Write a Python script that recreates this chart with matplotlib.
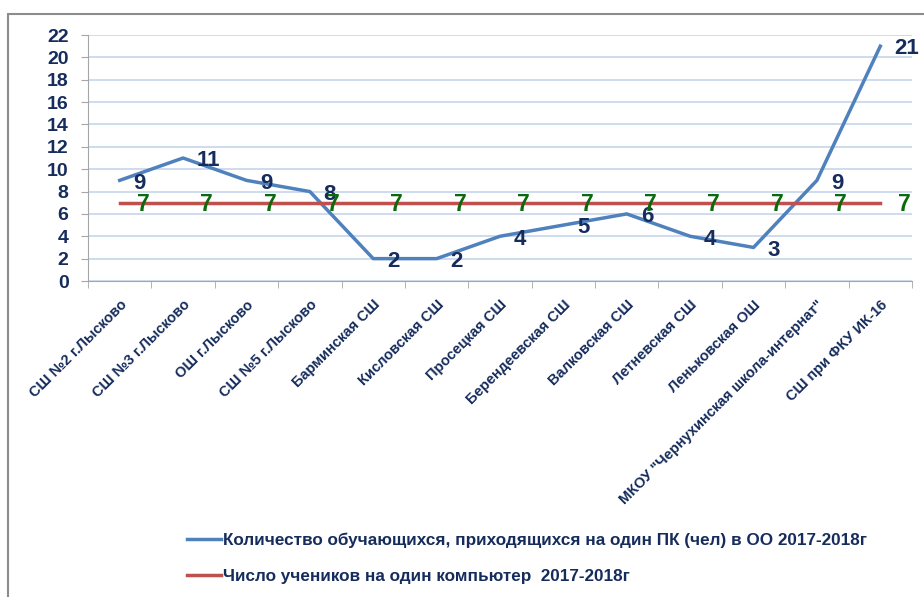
import matplotlib
matplotlib.use("Agg")
from matplotlib import pyplot as plt
from matplotlib.patches import Rectangle

NAVY = "#152C5C"
GREEN = "#0B6A0B"
BLUE_LINE = "#4F81BD"
RED_LINE = "#C0504D"
GRID = "#C5D6EA"
FONT = ["Liberation Sans", "DejaVu Sans"]

schools = [
    "СШ №2 г.Лысково",
    "СШ №3 г.Лысково",
    "ОШ г.Лысково",
    "СШ №5 г.Лысково",
    "Барминская СШ",
    "Кисловская СШ",
    "Просецкая СШ",
    "Берендеевская СШ",
    "Валковская СШ",
    "Летневская СШ",
    "Леньковская ОШ",
    "МКОУ \"Чернухинская школа-интернат\"",
    "СШ при ФКУ ИК-16",
]
pupils_per_pc = [9, 11, 9, 8, 2, 2, 4, 5, 6, 4, 3, 9, 21]
pupils_per_computer = [7, 7, 7, 7, 7, 7, 7, 7, 7, 7, 7, 7, 7]

label_pc = "Количество обучающихся, приходящихся на один ПК (чел) в ОО 2017-2018г"
label_comp = "Число учеников на один компьютер  2017-2018г"

plt.rcParams["font.family"] = FONT
plt.rcParams["font.weight"] = "bold"

fig = plt.figure(figsize=(9.24, 5.97), dpi=100)
fig.patches.append(
    Rectangle((8 / 924, -0.1), 1.1, 1 - 14 / 597 + 0.1, transform=fig.transFigure,
              fill=False, edgecolor="#8C8C8C", linewidth=1.5)
)
ax = fig.add_axes([88 / 924, 1 - 281 / 597, 824 / 924, 246 / 597])

x = list(range(len(schools)))
line_pc, = ax.plot(x, pupils_per_pc, color=BLUE_LINE, linewidth=2.5, label=label_pc)
line_comp, = ax.plot(x, pupils_per_computer, color=RED_LINE, linewidth=2.5, label=label_comp)

for xi, v in zip(x, pupils_per_pc):
    ax.annotate(str(v), (xi, v), xytext=(10, -2), textcoords="offset points",
                ha="left", va="center", fontsize=16, color=NAVY, fontweight="bold",
                annotation_clip=False)
for xi, v in zip(x, pupils_per_computer):
    ax.annotate(str(v), (xi, v), xytext=(17, -1), textcoords="offset points",
                ha="center", va="center", fontsize=16.5, color=GREEN, fontweight="bold",
                annotation_clip=False)

ax.set_xlim(-0.5, len(schools) - 0.5)
ax.set_ylim(0, 22)
ax.set_yticks(range(0, 23, 2))
ax.yaxis.grid(True, color=GRID, linewidth=1.2)
ax.set_axisbelow(True)

ax.set_xticks(x)
ax.set_xticklabels(schools, rotation=45, ha="right", rotation_mode="anchor",
                   fontsize=10.5, color=NAVY, fontweight="bold")
ax.set_xticks([i - 0.5 for i in range(len(schools) + 1)], minor=True)
ax.tick_params(axis="x", which="major", length=0, pad=12)
ax.tick_params(axis="x", which="minor", length=5, color="#A6A6A6")
ax.tick_params(axis="y", length=5, color="#A6A6A6", labelsize=14, labelcolor=NAVY, pad=9)
for lab in ax.get_yticklabels():
    lab.set_fontweight("bold")

for side in ["top", "right"]:
    ax.spines[side].set_visible(False)
ax.spines["left"].set_color("#A6A6A6")
ax.spines["bottom"].set_color("#A6A6A6")

fig.legend(handles=[line_pc, line_comp], loc="upper left",
           bbox_to_anchor=(187 / 924, 1 - 533 / 597), frameon=False,
           borderpad=0, borderaxespad=0,
           labelcolor=NAVY, handlelength=2.0, handletextpad=0.1,
           labelspacing=1.2, prop={"family": FONT, "weight": "bold", "size": 12.3})

fig.savefig("out.png", dpi=100)
